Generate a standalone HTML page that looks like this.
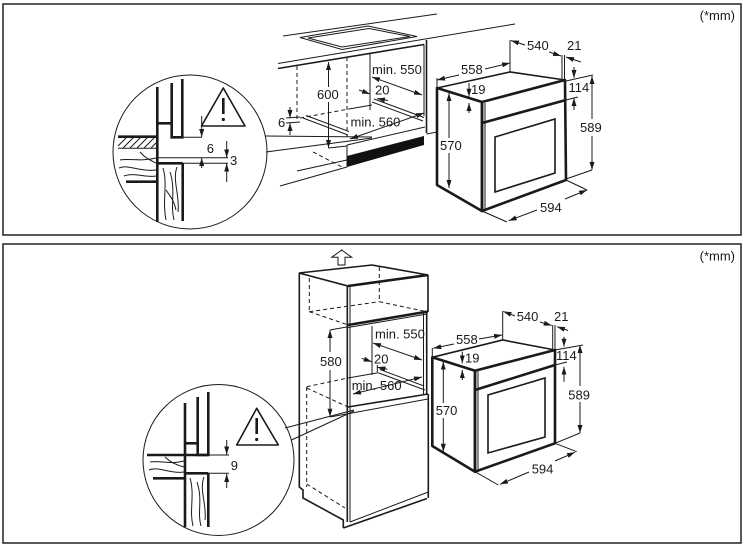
<!DOCTYPE html>
<html><head><meta charset="utf-8"><style>
html,body{margin:0;padding:0;background:#fff;}
svg{display:block}
text{font-family:"Liberation Sans",Arial,sans-serif;font-size:13px;fill:#1a1a1a}
.t{stroke:#1a1a1a;stroke-width:1;fill:none}
.m{stroke:#1a1a1a;stroke-width:1.6;fill:none}
.k{stroke:#1a1a1a;stroke-width:2.6;fill:none}
.d{stroke:#1a1a1a;stroke-width:1;fill:none;stroke-dasharray:4 3}
</style></head><body>
<svg width="744" height="549" viewBox="0 0 744 549">
<defs>
<marker id="a" viewBox="0 0 8 5" refX="8" refY="2.5" markerWidth="8" markerHeight="5" markerUnits="userSpaceOnUse" orient="auto-start-reverse"><path d="M0,0L8,2.5L0,5z" fill="#1a1a1a"/></marker>
</defs>
<rect width="744" height="549" fill="#fff"/>

<!-- ================= TOP PANEL ================= -->
<rect x="3" y="4" width="738" height="231" fill="none" stroke="#222" stroke-width="1.5"/>
<text x="735" y="20" text-anchor="end">(*mm)</text>

<!-- top circle detail -->
<circle cx="190" cy="152" r="77" class="t" stroke-width="1.2"/>
<line class="k" x1="157.3" y1="87" x2="157.3" y2="222"/>
<line class="k" x1="157.3" y1="123.3" x2="171.7" y2="123.3"/>
<path class="k" d="M171.7,83 V137.3 H182.3 V79"/>
<line class="k" x1="118" y1="136.7" x2="157" y2="136.7"/>
<line class="t" x1="118" y1="148.3" x2="157" y2="148.3"/>
<path class="t" d="M118,146 L127,137 M123,148 L134,137 M130,148 L141,137 M137,148 L148,137 M144,148 L155,137 M151,148 L157,142"/>
<path class="t" d="M120,160 C130,158 140,162 156,158 M119,168 C128,164 140,172 156,170 M124,176 C135,172 145,178 156,176 M140,152 C145,158 150,160 156,163"/>
<line class="k" x1="126" y1="181.7" x2="157" y2="181.7"/>
<line class="t" x1="182" y1="137.3" x2="202" y2="137.3"/>
<line class="t" x1="157" y1="157.7" x2="228" y2="157.7"/>
<line class="k" x1="157" y1="163.3" x2="182.7" y2="163.3"/>
<line class="t" x1="182.7" y1="163.3" x2="228" y2="163.3"/>
<line class="k" x1="182.7" y1="163.3" x2="182.7" y2="221"/>
<path class="t" d="M163,168 C168,185 162,200 166,220 M170,172 C176,190 170,205 174,220 M177,167 C172,180 180,195 178,212 M166,190 C170,196 174,200 176,210"/>
<line class="t" x1="201.7" y1="116" x2="201.7" y2="137" marker-end="url(#a)"/>
<line class="t" x1="201.7" y1="168" x2="201.7" y2="158" marker-end="url(#a)"/>
<text x="206.7" y="153">6</text>
<line class="t" x1="226.7" y1="141" x2="226.7" y2="157.5" marker-end="url(#a)"/>
<line class="t" x1="226.7" y1="182" x2="226.7" y2="163.5" marker-end="url(#a)"/>
<text x="230" y="165">3</text>
<polygon class="m" points="223.3,88 201.5,126 245,126" stroke-linejoin="round"/>
<line class="k" x1="223.3" y1="98" x2="223.3" y2="114" stroke-width="2.4"/>
<circle cx="223.3" cy="119.5" r="1.6" fill="#1a1a1a"/>

<!-- connector -->
<line class="t" x1="265" y1="136" x2="372" y2="137"/>
<line class="t" x1="266" y1="152" x2="372" y2="138"/>

<!-- countertop & hob -->
<line class="t" x1="283" y1="36" x2="437" y2="14"/>
<polygon class="t" points="300,37.5 368,26 417,36.5 342,49.5"/>
<polygon class="t" points="308,38 369,28.5 410,36.5 342,47"/>
<line class="t" x1="278" y1="63.5" x2="515" y2="24" stroke-width="1.2"/>
<line class="m" x1="278" y1="68.5" x2="424" y2="44.5"/>

<!-- cabinet -->
<line class="d" x1="297" y1="66" x2="297" y2="120"/>
<line class="d" x1="347" y1="57" x2="347" y2="137"/>
<line class="t" x1="370" y1="53" x2="370" y2="110"/>
<line class="t" x1="424" y1="44.5" x2="424" y2="116"/>
<line class="m" x1="426.5" y1="40" x2="426.5" y2="133"/>
<line class="t" x1="426.5" y1="134" x2="437" y2="132"/>
<line class="d" x1="300" y1="118" x2="349" y2="109"/>
<line class="t" x1="349" y1="109" x2="372" y2="105"/>
<line class="t" x1="303" y1="118" x2="348" y2="135"/>
<line class="t" x1="306" y1="115.5" x2="349" y2="131.5"/>
<line class="t" x1="372" y1="102" x2="423" y2="121"/>
<line class="t" x1="374" y1="99" x2="424" y2="117.5"/>
<line class="t" x1="347" y1="145" x2="425" y2="127" stroke-width="1.2"/>
<line class="t" x1="347" y1="145" x2="347" y2="167"/>
<polygon points="347,156 424,136 424,145 347,167" fill="#111"/>
<line class="t" x1="280" y1="186" x2="347" y2="167"/>
<line class="t" x1="297" y1="171" x2="347" y2="160"/>
<line class="d" x1="313" y1="152" x2="342" y2="167"/>

<!-- cabinet dims -->
<line class="t" x1="328.5" y1="87" x2="328.5" y2="62" marker-end="url(#a)"/>
<line class="t" x1="328.5" y1="102" x2="328.5" y2="148" marker-end="url(#a)"/>
<line class="t" x1="328.5" y1="148" x2="347" y2="146"/>
<text x="317" y="99">600</text>
<line class="t" x1="290" y1="107" x2="290" y2="118" marker-end="url(#a)"/>
<line class="t" x1="290" y1="135" x2="290" y2="123" marker-end="url(#a)"/>
<line class="t" x1="286" y1="118" x2="300" y2="117"/>
<line class="t" x1="286" y1="123" x2="300" y2="122"/>
<text x="278" y="127">6</text>
<text x="372" y="74">min. 550</text>
<line class="t" x1="372" y1="77" x2="422" y2="95" marker-start="url(#a)" marker-end="url(#a)"/>
<text x="375" y="94.5">20</text>
<line class="t" x1="359" y1="90" x2="370" y2="94" marker-end="url(#a)"/>
<line class="t" x1="388" y1="100.5" x2="377" y2="98.5" marker-end="url(#a)"/>
<text x="350.5" y="126.7">min. 560</text>
<line class="t" x1="350" y1="139" x2="424" y2="113" marker-start="url(#a)" marker-end="url(#a)"/>

<!-- top oven -->
<polygon class="k" points="437,88 482,102 482,211 437,185" stroke-width="2" stroke-linejoin="round"/>
<polyline class="m" points="437,88 510,72 565,80"/>
<polygon class="k" points="482,102 565,80 566,180 482,211" stroke-linejoin="round"/>
<line class="t" x1="485" y1="103" x2="485" y2="210"/>
<line class="k" x1="482" y1="123" x2="566" y2="100"/>
<polygon class="m" points="495,137 555,119 555,173 495,192" stroke-width="1.3"/>

<!-- top oven dims -->
<line class="t" x1="437" y1="78" x2="437" y2="88"/>
<line class="t" x1="459" y1="75" x2="437" y2="80" marker-end="url(#a)"/>
<line class="t" x1="485" y1="69" x2="510" y2="63" marker-end="url(#a)"/>
<text x="461" y="74">558</text>
<line class="t" x1="510" y1="72" x2="510" y2="40"/>
<line class="t" x1="525" y1="45" x2="511" y2="40.5" marker-end="url(#a)"/>
<text x="527" y="50">540</text>
<line class="t" x1="549" y1="52" x2="561" y2="56" marker-end="url(#a)"/>
<line class="t" x1="562" y1="55" x2="562" y2="80"/>
<line class="t" x1="564.5" y1="55" x2="564.5" y2="80"/>
<text x="567" y="50">21</text>
<line class="t" x1="581" y1="62" x2="566" y2="57" marker-end="url(#a)"/>
<line class="t" x1="574" y1="67" x2="574" y2="78" marker-end="url(#a)"/>
<line class="t" x1="574" y1="110" x2="574" y2="98" marker-end="url(#a)"/>
<text x="568.5" y="92">114</text>
<line class="t" x1="566" y1="81" x2="593" y2="75"/>
<line class="t" x1="566" y1="100" x2="578" y2="97"/>
<line class="t" x1="592" y1="119" x2="592" y2="76" marker-end="url(#a)"/>
<line class="t" x1="592" y1="136" x2="592" y2="170" marker-end="url(#a)"/>
<text x="580" y="132">589</text>
<line class="t" x1="566" y1="179" x2="592" y2="170"/>
<line class="t" x1="566" y1="180" x2="587" y2="190"/>
<line class="t" x1="482" y1="211" x2="507" y2="222"/>
<line class="t" x1="537" y1="210" x2="508.7" y2="220.7" marker-end="url(#a)"/>
<line class="t" x1="565" y1="199" x2="587" y2="190" marker-end="url(#a)"/>
<text x="540" y="212">594</text>
<line class="t" x1="469" y1="83" x2="469" y2="96.7" marker-end="url(#a)"/>
<line class="t" x1="469" y1="113" x2="469" y2="103" marker-end="url(#a)"/>
<text x="471" y="94">19</text>
<line class="t" x1="449" y1="138" x2="449" y2="93" marker-end="url(#a)"/>
<line class="t" x1="449" y1="153" x2="449" y2="188" marker-end="url(#a)"/>
<text x="440" y="150">570</text>

<!-- ================= BOTTOM PANEL ================= -->
<rect x="3" y="244" width="738" height="299" fill="none" stroke="#222" stroke-width="1.5"/>
<text x="735" y="260.5" text-anchor="end">(*mm)</text>

<!-- bottom circle -->
<circle cx="218.5" cy="460" r="75.5" class="t" stroke-width="1.2"/>
<line class="k" x1="185" y1="403" x2="185" y2="527"/>
<line class="k" x1="185" y1="443.3" x2="197.7" y2="443.3"/>
<path class="k" d="M197.7,397 V455 H208.3 V392"/>
<line class="k" x1="147" y1="455" x2="208" y2="455"/>
<line class="t" x1="208" y1="455" x2="229" y2="455"/>
<line class="k" x1="153" y1="478.3" x2="185" y2="478.3"/>
<path class="t" d="M150,462 C160,460 170,465 184,461 M149,470 C158,466 170,474 184,472 M165,457 C170,462 176,465 184,467"/>
<line class="k" x1="185" y1="473.3" x2="208.3" y2="473.3"/>
<line class="t" x1="208.3" y1="473.3" x2="229" y2="473.3"/>
<line class="k" x1="208.3" y1="473.3" x2="208.3" y2="527"/>
<path class="t" d="M190,478 C195,495 189,510 193,526 M197,482 C203,500 197,512 201,526 M204,477 C199,490 207,505 205,520"/>
<line class="t" x1="226.7" y1="440" x2="226.7" y2="454.5" marker-end="url(#a)"/>
<line class="t" x1="226.7" y1="488" x2="226.7" y2="474" marker-end="url(#a)"/>
<text x="230.7" y="470">9</text>
<polygon class="m" points="256.7,408.3 236.7,445 278.3,445" stroke-linejoin="round"/>
<line class="k" x1="256.7" y1="418" x2="256.7" y2="434" stroke-width="2.4"/>
<circle cx="256.7" cy="439.5" r="1.6" fill="#1a1a1a"/>

<!-- connector -->
<line class="t" x1="285" y1="428" x2="354" y2="410"/>
<line class="t" x1="291.5" y1="440" x2="354" y2="411"/>

<!-- up arrow -->
<polygon class="t" points="341.7,250 351.7,257.3 345,257.3 345,265 338,265 338,257.3 331.7,257.3" fill="#fff"/>

<!-- tall cabinet -->
<polygon class="m" points="299,273 372,265 428,275 348,286"/>
<line class="k" x1="348" y1="286" x2="428" y2="275"/>
<line class="m" x1="428" y1="275" x2="428" y2="312"/>
<line class="k" x1="348" y1="325" x2="428" y2="311.5"/>
<line class="t" x1="348" y1="327.5" x2="427" y2="314"/>
<line class="d" x1="309.3" y1="278" x2="309.3" y2="311.7"/>
<line class="d" x1="379.3" y1="267" x2="379.3" y2="301.7"/>
<line class="d" x1="309.3" y1="311.7" x2="348.3" y2="325"/>
<line class="d" x1="309.3" y1="311.7" x2="379.3" y2="301.7"/>
<line class="d" x1="379.3" y1="301.7" x2="426.7" y2="311.7"/>
<polyline class="m" points="299.3,273 299.3,487 303,490 303,498 343.3,520 343.3,528"/>
<line class="m" x1="343.3" y1="528" x2="427" y2="498.5"/>
<line class="t" x1="350" y1="522" x2="428.3" y2="492"/>
<line class="m" x1="428.3" y1="394" x2="428.3" y2="498"/>
<line class="m" x1="347.3" y1="286" x2="347.3" y2="522"/>
<line class="t" x1="350" y1="287" x2="350" y2="522"/>
<line class="t" x1="423.5" y1="313.5" x2="423.5" y2="395"/>
<line class="m" x1="426.7" y1="313" x2="426.7" y2="395"/>
<line class="t" x1="372" y1="326" x2="372" y2="375"/>
<line class="t" x1="348" y1="378" x2="378" y2="372.7"/>
<line class="t" x1="378" y1="372.7" x2="425" y2="390"/>
<line class="t" x1="380" y1="369.5" x2="424" y2="386"/>
<line class="m" x1="348" y1="407" x2="428" y2="394"/>
<line class="t" x1="330" y1="417" x2="428" y2="399"/>
<line class="d" x1="306.7" y1="386.7" x2="348" y2="378"/>
<line class="d" x1="306.7" y1="387" x2="306.7" y2="487"/>
<line class="d" x1="306.7" y1="388" x2="348" y2="407"/>
<line class="d" x1="306.7" y1="484" x2="345" y2="508"/>

<!-- tall cabinet dims -->
<line class="t" x1="330" y1="352" x2="330" y2="330" marker-end="url(#a)"/>
<line class="t" x1="330" y1="370" x2="330" y2="416.7" marker-end="url(#a)"/>
<line class="t" x1="330" y1="330" x2="348" y2="326.7"/>
<text x="320" y="366">580</text>
<text x="375" y="338.3">min. 550</text>
<line class="t" x1="373" y1="343" x2="422" y2="360" marker-start="url(#a)" marker-end="url(#a)"/>
<text x="374" y="363.3">20</text>
<line class="t" x1="361.7" y1="358.3" x2="371.7" y2="361.7" marker-end="url(#a)"/>
<line class="t" x1="387.3" y1="369.3" x2="377.3" y2="367.3" marker-end="url(#a)"/>
<line class="t" x1="377.3" y1="365" x2="377.3" y2="372"/>
<text x="351.7" y="390">min. 560</text>
<line class="t" x1="353" y1="394" x2="422" y2="377" marker-start="url(#a)" marker-end="url(#a)"/>

<!-- bottom oven -->
<polygon class="k" points="432.3,357.3 475,370.7 475,471.7 432.3,446" stroke-width="2" stroke-linejoin="round"/>
<polyline class="m" points="432.3,357.3 502.7,340 555,350"/>
<polygon class="k" points="475,370.7 555,350 555,443.3 475,471.7" stroke-linejoin="round"/>
<line class="t" x1="478" y1="371.5" x2="478" y2="470.5"/>
<line class="k" x1="475" y1="390" x2="555" y2="365"/>
<polygon class="m" points="488,395 545,378 545,437 488,453" stroke-width="1.3"/>

<!-- bottom oven dims -->
<line class="t" x1="432.3" y1="348" x2="432.3" y2="357"/>
<line class="t" x1="454" y1="344" x2="433.3" y2="348.3" marker-end="url(#a)"/>
<line class="t" x1="479" y1="339" x2="502" y2="335" marker-end="url(#a)"/>
<text x="456" y="344">558</text>
<line class="t" x1="502.7" y1="340" x2="502.7" y2="311"/>
<line class="t" x1="515" y1="316" x2="503.5" y2="311.5" marker-end="url(#a)"/>
<text x="516.7" y="321">540</text>
<line class="t" x1="540" y1="322" x2="551.7" y2="325.5" marker-end="url(#a)"/>
<line class="t" x1="552.7" y1="325" x2="552.7" y2="350"/>
<line class="t" x1="555" y1="325" x2="555" y2="350"/>
<text x="554" y="321">21</text>
<line class="t" x1="568" y1="330.5" x2="557" y2="326.7" marker-end="url(#a)"/>
<line class="t" x1="564" y1="336.7" x2="564" y2="346.7" marker-end="url(#a)"/>
<line class="t" x1="564" y1="381.7" x2="564" y2="366.7" marker-end="url(#a)"/>
<text x="556" y="360">114</text>
<line class="t" x1="555" y1="350" x2="583" y2="345"/>
<line class="t" x1="555" y1="365" x2="567" y2="362"/>
<line class="t" x1="580" y1="386" x2="580" y2="345" marker-end="url(#a)"/>
<line class="t" x1="580" y1="402" x2="580" y2="433" marker-end="url(#a)"/>
<text x="568.3" y="399.3">589</text>
<line class="t" x1="555" y1="443.3" x2="580" y2="433"/>
<line class="t" x1="555" y1="443.3" x2="576.7" y2="451.7"/>
<line class="t" x1="475" y1="471.7" x2="498.3" y2="485"/>
<line class="t" x1="529" y1="472" x2="500" y2="484.3" marker-end="url(#a)"/>
<line class="t" x1="555" y1="461" x2="575" y2="452.3" marker-end="url(#a)"/>
<text x="531.7" y="473.3">594</text>
<line class="t" x1="462.3" y1="351.7" x2="462.3" y2="363.3" marker-end="url(#a)"/>
<line class="t" x1="462.3" y1="380" x2="462.3" y2="370" marker-end="url(#a)"/>
<text x="465" y="362.7">19</text>
<line class="t" x1="443.3" y1="403" x2="443.3" y2="361.7" marker-end="url(#a)"/>
<line class="t" x1="443.3" y1="418" x2="443.3" y2="451.7" marker-end="url(#a)"/>
<text x="435.7" y="415">570</text>
</svg>
</body></html>
